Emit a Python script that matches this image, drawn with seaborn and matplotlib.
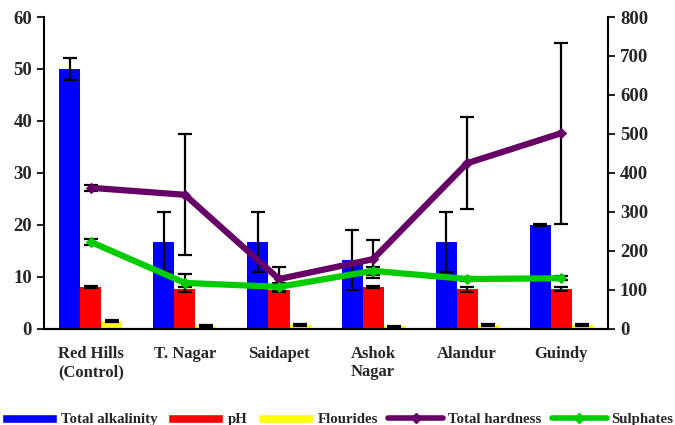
import pandas as pd
import seaborn as sns
import matplotlib.pyplot as plt
from matplotlib.patches import Patch
from matplotlib.lines import Line2D

sites = ["Red Hills\n(Control)", "T. Nagar", "Saidapet", "Ashok\nNagar", "Alandur", "Guindy"]

alkalinity = [50.0, 16.7, 16.7, 13.3, 16.7, 20.0]
alkalinity_err = [2.1, 5.8, 5.8, 5.8, 5.8, 0.2]
ph = [8.1, 7.6, 7.5, 8.0, 7.6, 7.7]
ph_err = [0.2, 0.4, 0.4, 0.2, 0.5, 0.4]
fluorides = [1.5, 0.6, 0.8, 0.5, 0.8, 0.8]
fluorides_err = [0.2, 0.2, 0.2, 0.1, 0.2, 0.2]

hardness = [362, 344, 128, 179, 425, 502]
hardness_err = [8, 155, 30, 49, 118, 232]
sulphates = [223, 118, 108, 149, 128, 130]
sulphates_err = [8, 24, 10, 10, 5, 5]

bar_names = ["Total alkalinity", "pH", "Flourides"]
bar_colors = ["#0000FF", "#FF0000", "#FFFF00"]
line_colors = ["#660066", "#00CC00"]

sns.set_style("white")
plt.rcParams['font.family'] = ['Liberation Serif', 'DejaVu Serif']
plt.rcParams['font.weight'] = 'bold'

rows = []
for name, vals in zip(bar_names, [alkalinity, ph, fluorides]):
    for s, v in zip(sites, vals):
        rows.append({"site": s, "param": name, "value": v})
df = pd.DataFrame(rows)

fig = plt.figure(figsize=(6.75, 4.25), dpi=100)
ax = fig.add_axes([0.065, 0.226, 0.836, 0.734])

width = 0.67
sns.barplot(data=df, x="site", y="value", hue="param", hue_order=bar_names,
            palette=bar_colors, width=width, errorbar=None, saturation=1,
            linewidth=0, legend=False, ax=ax)

step = width / 3
x = list(range(len(sites)))
for k, (vals, errs) in enumerate([(alkalinity, alkalinity_err), (ph, ph_err),
                                  (fluorides, fluorides_err)]):
    pos = [i + (k - 1) * step for i in x]
    ax.errorbar(pos, vals, yerr=errs, fmt="none", ecolor="black",
                elinewidth=1.6, capsize=5, capthick=1.6, zorder=5)

ax2 = ax.twinx()
for vals, errs, col in [(hardness, hardness_err, line_colors[0]),
                        (sulphates, sulphates_err, line_colors[1])]:
    ax2.errorbar(x, vals, yerr=errs, fmt="none", ecolor="black",
                 elinewidth=1.6, capsize=5, capthick=1.6, zorder=1)
    sns.lineplot(x=x, y=vals, ax=ax2, color=col, lw=4.5, marker="D",
                 markersize=5, markeredgecolor=col, zorder=3)

ax.set_ylim(0, 60)
ax.set_yticks(range(0, 61, 10))
ax2.set_ylim(0, 800)
ax2.set_yticks(range(0, 801, 100))
ax.set_xlim(-0.5, len(sites) - 0.5)
ax.set_xticks(x)
ax.set_xticklabels(sites, fontsize=12, fontweight="bold")
ax.set_xticks([i - 0.5 for i in range(len(sites) + 1)], minor=True)
ax.tick_params(axis="x", which="major", length=0, pad=12)
ax.tick_params(axis="x", which="minor", length=5, width=1.5, direction="out")
ax.tick_params(axis="y", length=5, width=1.5, direction="out", labelsize=13.5, left=True)
ax2.tick_params(axis="y", length=5, width=1.5, direction="out", labelsize=13.5, right=True)
ax.set_xlabel("")
ax.set_ylabel("")
ax2.set_ylabel("")
ax2.set_xlabel("")
for a in (ax, ax2):
    for lbl in a.get_yticklabels():
        lbl.set_fontweight("bold")
    a.spines["top"].set_visible(False)
    for sp in ("left", "right", "bottom"):
        a.spines[sp].set_linewidth(1.5)
        a.spines[sp].set_color("black")
ax2.spines["left"].set_visible(False)
ax.spines["right"].set_visible(False)

handles = [Patch(facecolor=c) for c in bar_colors]
handles += [Line2D([], [], color=c, lw=4, marker="D", markersize=5) for c in line_colors]
labels = bar_names + ["Total hardness", "Sulphates"]
fig.legend(handles, labels, loc="lower center", ncol=5, frameon=False,
           bbox_to_anchor=(0.5, -0.024), handlelength=3.7, handleheight=0.55,
           columnspacing=0.7, handletextpad=0.3, borderaxespad=0.2,
           prop={"size": 10.7, "weight": "bold", "family": "Liberation Serif"})

fig.savefig("out.png", dpi=100)
